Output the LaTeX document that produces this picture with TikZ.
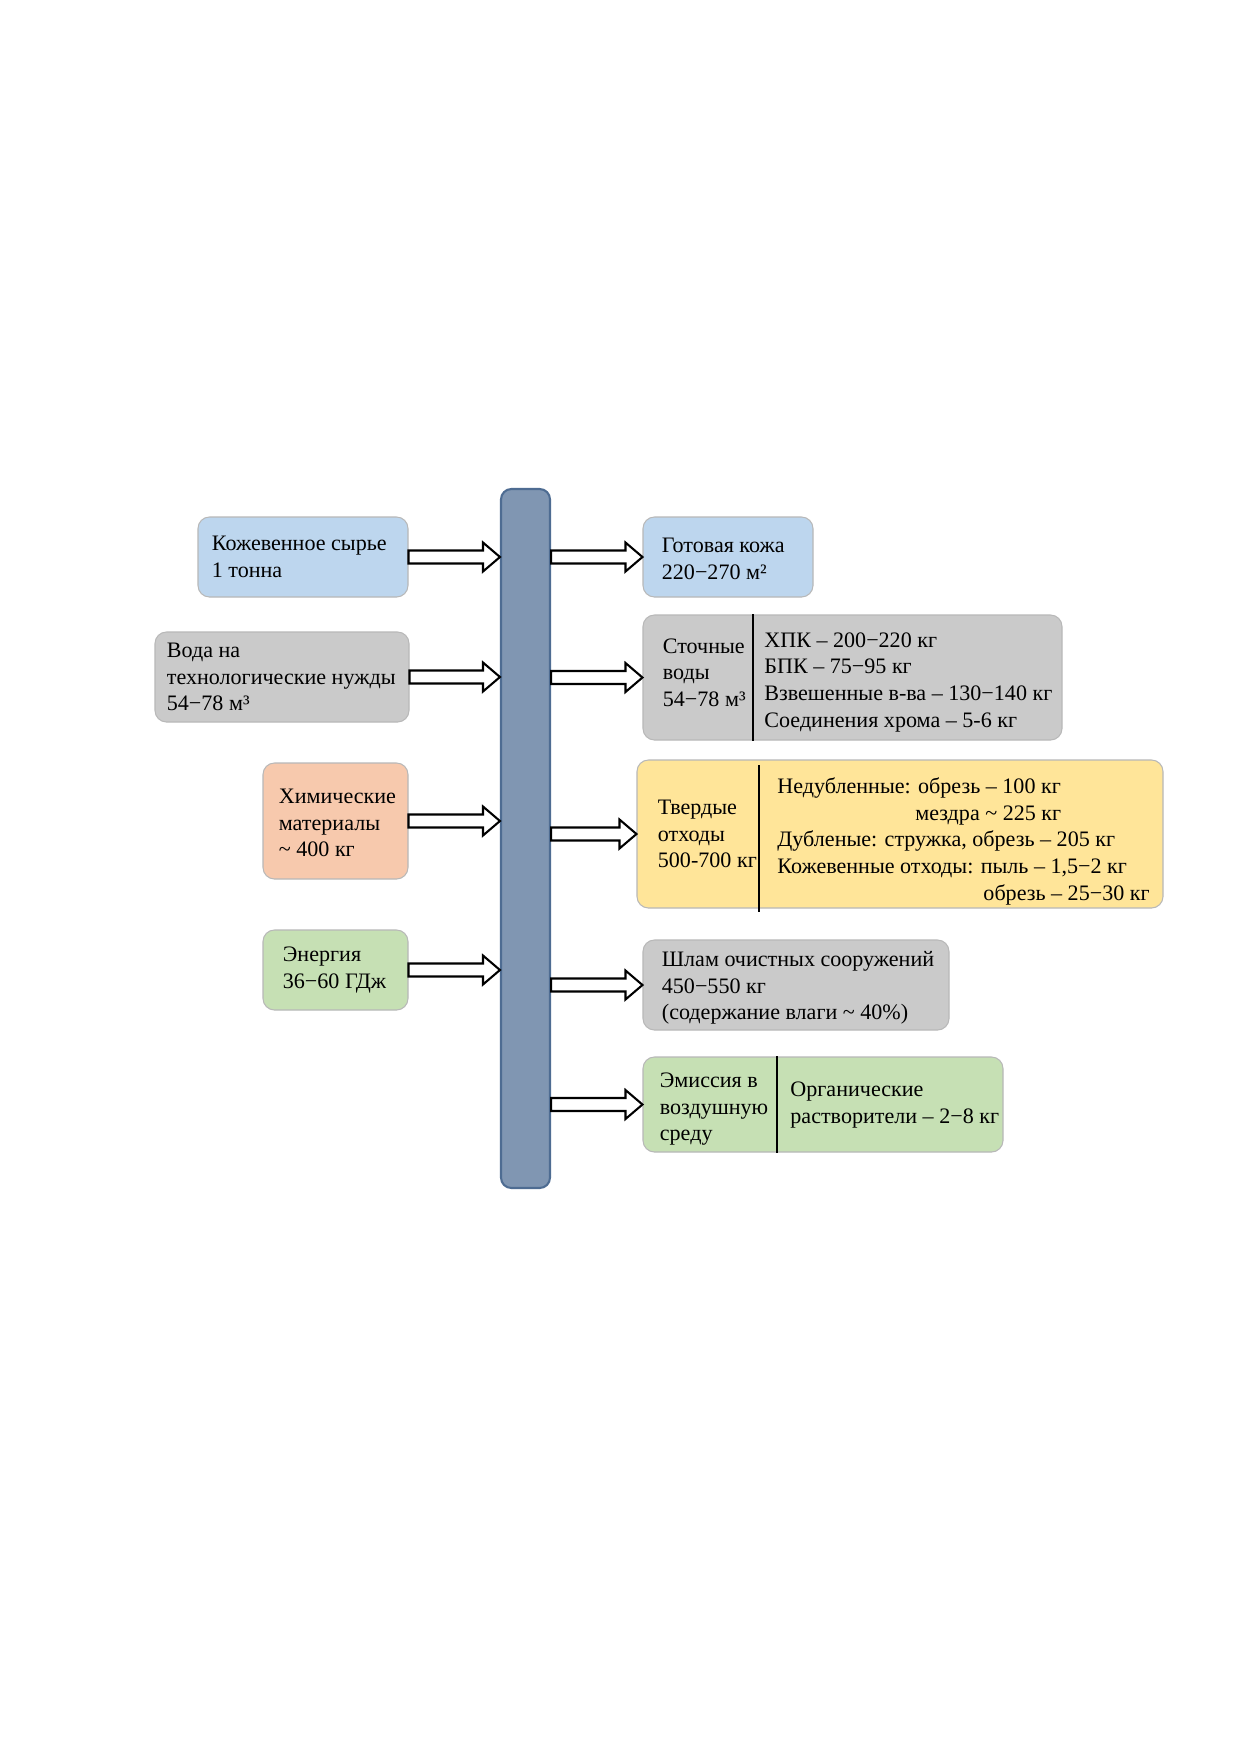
\documentclass[tikz,border=0pt]{standalone}
\usepackage{fontspec}
\setmainfont{Liberation Serif}
\usetikzlibrary{calc}
\definecolor{cblue}{RGB}{189,214,238}
\definecolor{cgray}{RGB}{202,202,202}
\definecolor{cpeach}{RGB}{247,201,173}
\definecolor{cgreen}{RGB}{198,224,180}
\definecolor{cyellow}{RGB}{255,229,153}
\definecolor{barfill}{RGB}{128,150,178}
\definecolor{barline}{RGB}{78,108,146}
\newcommand\blockarrow[2]{%
  \draw[flowarrow] let \p1=(#1), \p2=(#2) in
    (\x1,\y1+3.12pt) -- (\x2-8.16pt,\y1+3.12pt) -- (\x2-8.16pt,\y1+6.96pt) --
    (\x2,\y1) -- (\x2-8.16pt,\y1-6.96pt) -- (\x2-8.16pt,\y1-3.12pt) --
    (\x1,\y1-3.12pt) -- cycle;}
\begin{document}
\begin{tikzpicture}[x=0.48pt,y=-0.48pt,
  box/.style={draw=black!28, line width=0.5pt, rounded corners=5.5pt, inner sep=0pt},
  txt/.style={inner sep=0pt, align=left, anchor=west, font=\fontsize{10.6}{12.8}\selectfont},
  flowarrow/.style={draw=black, fill=white, line width=1pt, line join=miter},
  divider/.style={draw=black, line width=0.6pt}]
\useasboundingbox[fill=white] (0,0) rectangle (1241,1754);

% central bar
\node[draw=barline, fill=barfill, line width=1pt, rounded corners=5pt,
      minimum width=23.52pt, minimum height=335.52pt, inner sep=0pt] (bar) at (525.5,838.5) {};

% left boxes
\node[box, fill=cblue, minimum width=100.8pt, minimum height=38.4pt] (b1) at (303,557) {};
\node[txt] (b1t) at ([xshift=6.72pt]b1.west) {Кожевенное сырье\\1 тонна};

\node[box, fill=cgray, minimum width=121.92pt, minimum height=43.2pt] (b2) at (282,677) {};
\node[txt] (b2t) at ([xshift=5.76pt]b2.west) {Вода на\\технологические нужды\\54−78 м³};

\node[box, fill=cpeach, minimum width=69.6pt, minimum height=55.68pt] (b3) at (335.5,821) {};
\node[txt] (b3t) at ([xshift=7.68pt,yshift=-1pt]b3.west) {Химические\\материалы\\\textasciitilde{} 400 кг};

\node[box, fill=cgreen, minimum width=69.6pt, minimum height=38.4pt] (b4) at (335.5,970) {};
\node[txt] (b4t) at ([xshift=9.6pt]b4.west) {Энергия\\36−60 ГДж};

% right boxes
\node[box, fill=cblue, minimum width=81.6pt, minimum height=38.4pt] (r1) at (728,557) {};
\node[txt] (r1t) at ([xshift=9.12pt,yshift=-1pt]r1.west) {Готовая кожа\\220−270 м²};

\node[box, fill=cgray, minimum width=201.12pt, minimum height=60pt] (r2) at (852.5,677.5) {};
\coordinate (r2d) at (753,677.5);
\draw[divider] (r2d |- r2.north) -- (r2d |- r2.south);
\node[txt] (r2l) at ([xshift=9.6pt,yshift=2.4pt]r2.west) {Сточные\\воды\\54−78 м³};
\node[txt] (r2r) at ([xshift=5.28pt,yshift=-2.2pt]r2d) {ХПК – 200−220 кг\\БПК – 75−95 кг\\Взвешенные в-ва – 130−140 кг\\Соединения хрома – 5-6 кг};

\node[box, fill=cyellow, minimum width=252.48pt, minimum height=71.04pt] (r3) at (900,834) {};
\coordinate (r3top) at (759,765);
\coordinate (r3bot) at (759,912);
\draw[divider] (r3top) -- (r3bot);
\node[txt] (r3l) at ([xshift=10.08pt]r3.west) {Твердые\\отходы\\500-700 кг};
\node[txt] (r3r) at ([yshift=-3.5pt]r3top |- r3.west) [xshift=8.64pt] {Недубленные: обрезь – 100 кг\\
\hspace*{66.2pt}мездра \textasciitilde{} 225 кг\\
Дубленые: стружка, обрезь – 205 кг\\
Кожевенные отходы: пыль – 1,5−2 кг\\
\hspace*{98.9pt}обрезь – 25−30 кг};

\node[box, fill=cgray, minimum width=146.88pt, minimum height=43.2pt] (r4) at (796,985) {};
\node[txt] (r4t) at ([xshift=9.12pt,yshift=-1.4pt]r4.west) {Шлам очистных сооружений\\450−550 кг\\(содержание влаги \textasciitilde{} 40\%)};

\node[box, fill=cgreen, minimum width=172.8pt, minimum height=45.6pt] (r5) at (823,1104.5) {};
\coordinate (r5d) at (777,1104.5);
\draw[divider] (r5d |- r5.north) -- (r5d |- r5.south);
\node[txt] (r5l) at ([xshift=8.16pt,yshift=-2.2pt]r5.west) {Эмиссия в\\воздушную\\среду};
\node[txt] (r5r) at ([xshift=6.24pt,yshift=-0.2pt]r5d) {Органические\\растворители – 2−8 кг};

% arrows in
\blockarrow{b1.east}{bar.west}
\blockarrow{b2.east}{bar.west}
\blockarrow{b3.east}{bar.west}
\blockarrow{b4.east}{bar.west}
% arrows out
\blockarrow{bar.east |- r1.west}{r1.west}
\blockarrow{bar.east |- r2.west}{r2.west}
\blockarrow{bar.east |- r3.west}{r3.west}
\blockarrow{bar.east |- r4.west}{r4.west}
\blockarrow{bar.east |- r5.west}{r5.west}
\end{tikzpicture}
\end{document}
